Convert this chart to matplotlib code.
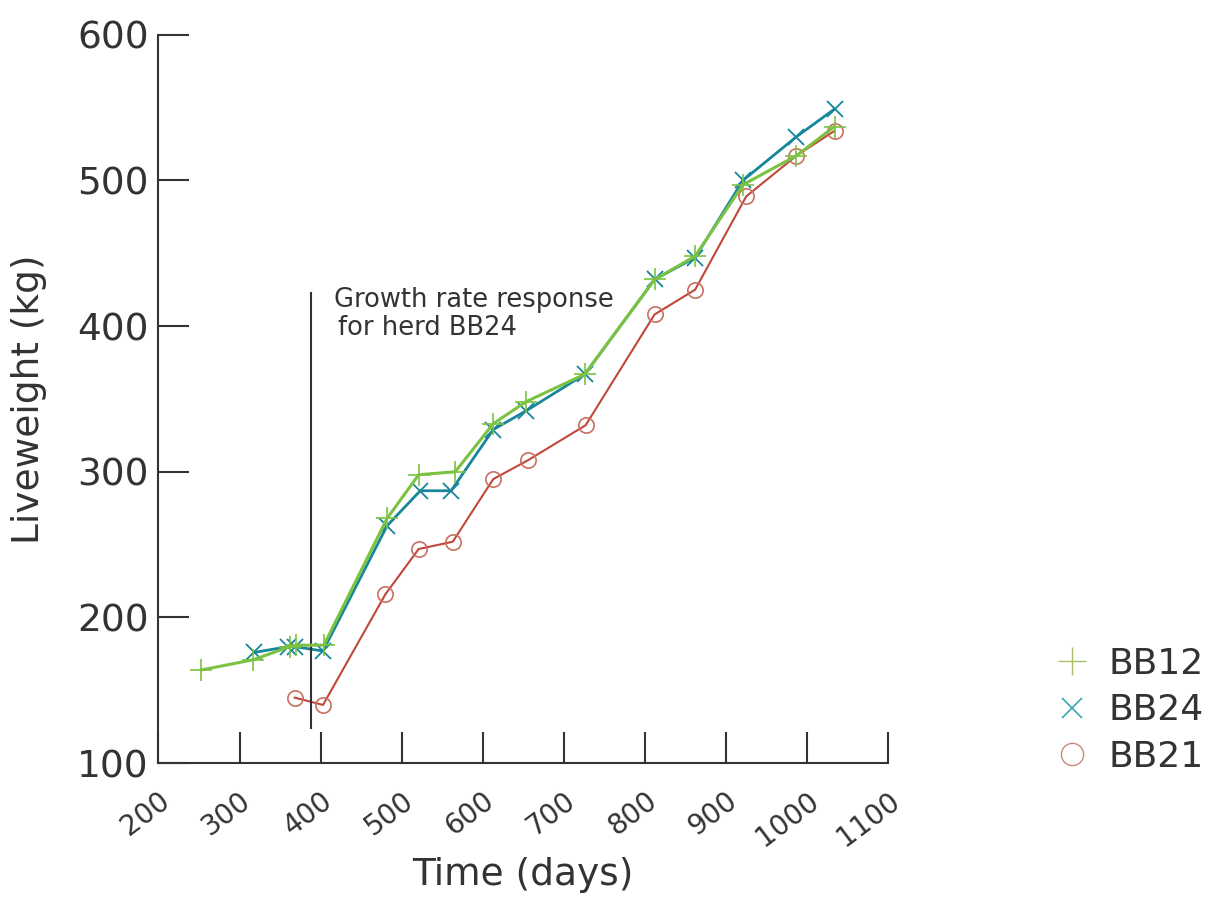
import matplotlib.pyplot as plt
from matplotlib.lines import Line2D

plt.rcParams['font.family'] = ['DejaVu Sans']

# liveweight records per herd
bb12_days = [253, 317, 362, 370, 404, 482, 521, 566, 613, 653, 726, 812, 862, 921, 987, 1034]
bb12_kg = [164, 171, 180, 181, 181, 268, 298, 300, 333, 348, 367, 432, 448, 497, 517, 537]
bb24_days = [318, 360, 368, 403, 482, 523, 561, 613, 654, 726, 812, 862, 921, 987, 1034]
bb24_kg = [176, 180, 180, 177, 263, 287, 287, 329, 342, 367, 432, 447, 500, 530, 549]
bb21_days = [368, 403, 480, 521, 563, 613, 656, 727, 812, 862, 925, 987, 1034]
bb21_kg = [145, 140, 216, 247, 252, 295, 308, 332, 408, 425, 489, 517, 534]

response_day = 388
response_range = [124, 423]
xticks = [200, 300, 400, 500, 600, 700, 800, 900, 1000, 1100]
yticks = [100, 200, 300, 400, 500, 600]

txt = '#333333'
green = '#7cc242'
blue = '#17869a'
red = '#c0473a'

fig = plt.figure(figsize=(12.19, 9.14), dpi=100)
ax = fig.add_axes([0.130, 0.165, 0.5985, 0.797])

ax.plot(bb12_days, bb12_kg, color=green, marker='+', ms=16, mew=1.2, lw=2.2, zorder=3)
ax.plot(bb24_days, bb24_kg, color=blue, marker='x', ms=12, mew=1.3, lw=2.0, zorder=2)
ax.plot(bb21_days, bb21_kg, color=red, marker='o', ms=11, mfc='none', mec='#c87060', mew=1.2, lw=1.5, zorder=2)

ax.plot([response_day, response_day], response_range, color='#333333', lw=1.5)
ax.text(416, 418, 'Growth rate response', fontsize=18.5, color=txt, va='center', ha='left')
ax.text(421, 399, 'for herd BB24', fontsize=18.5, color=txt, va='center', ha='left')

ax.set_xlim(200, 1100)
ax.set_ylim(100, 600)
ax.set_xticks(xticks)
ax.set_yticks(yticks)
ax.set_xticklabels([str(t) for t in xticks], rotation=37, ha='right', va='top',
                   rotation_mode='anchor', fontsize=20, color=txt)
ax.set_yticklabels([str(t) for t in yticks], fontsize=27, color=txt)
ax.tick_params(direction='in', length=22, width=1.5, color='#333333')
ax.tick_params(axis='x', pad=17)
ax.tick_params(axis='y', pad=7)
for s in ['top', 'right']:
    ax.spines[s].set_visible(False)
for s in ['left', 'bottom']:
    ax.spines[s].set_linewidth(1.5)
    ax.spines[s].set_color('#333333')

ax.set_xlabel('Time (days)', fontsize=27, color=txt, labelpad=4)
ax.set_ylabel('Liveweight (kg)', fontsize=27, color=txt, labelpad=22)

handles = [
    Line2D([], [], ls='none', marker='+', ms=20, mew=1.0, color='#a8bf6a'),
    Line2D([], [], ls='none', marker='x', ms=14, mew=1.2, color='#3aa3b0'),
    Line2D([], [], ls='none', marker='o', ms=16, mfc='none', mew=1.0, mec='#c88a78'),
]
fig.legend(handles, ['BB12', 'BB24', 'BB21'], loc='center left', bbox_to_anchor=(0.838, 0.223),
           frameon=False, fontsize=26, handlelength=1.0, handletextpad=0.5, labelspacing=0.35,
           labelcolor=txt)

fig.savefig('out.png', dpi=100, facecolor='white')
